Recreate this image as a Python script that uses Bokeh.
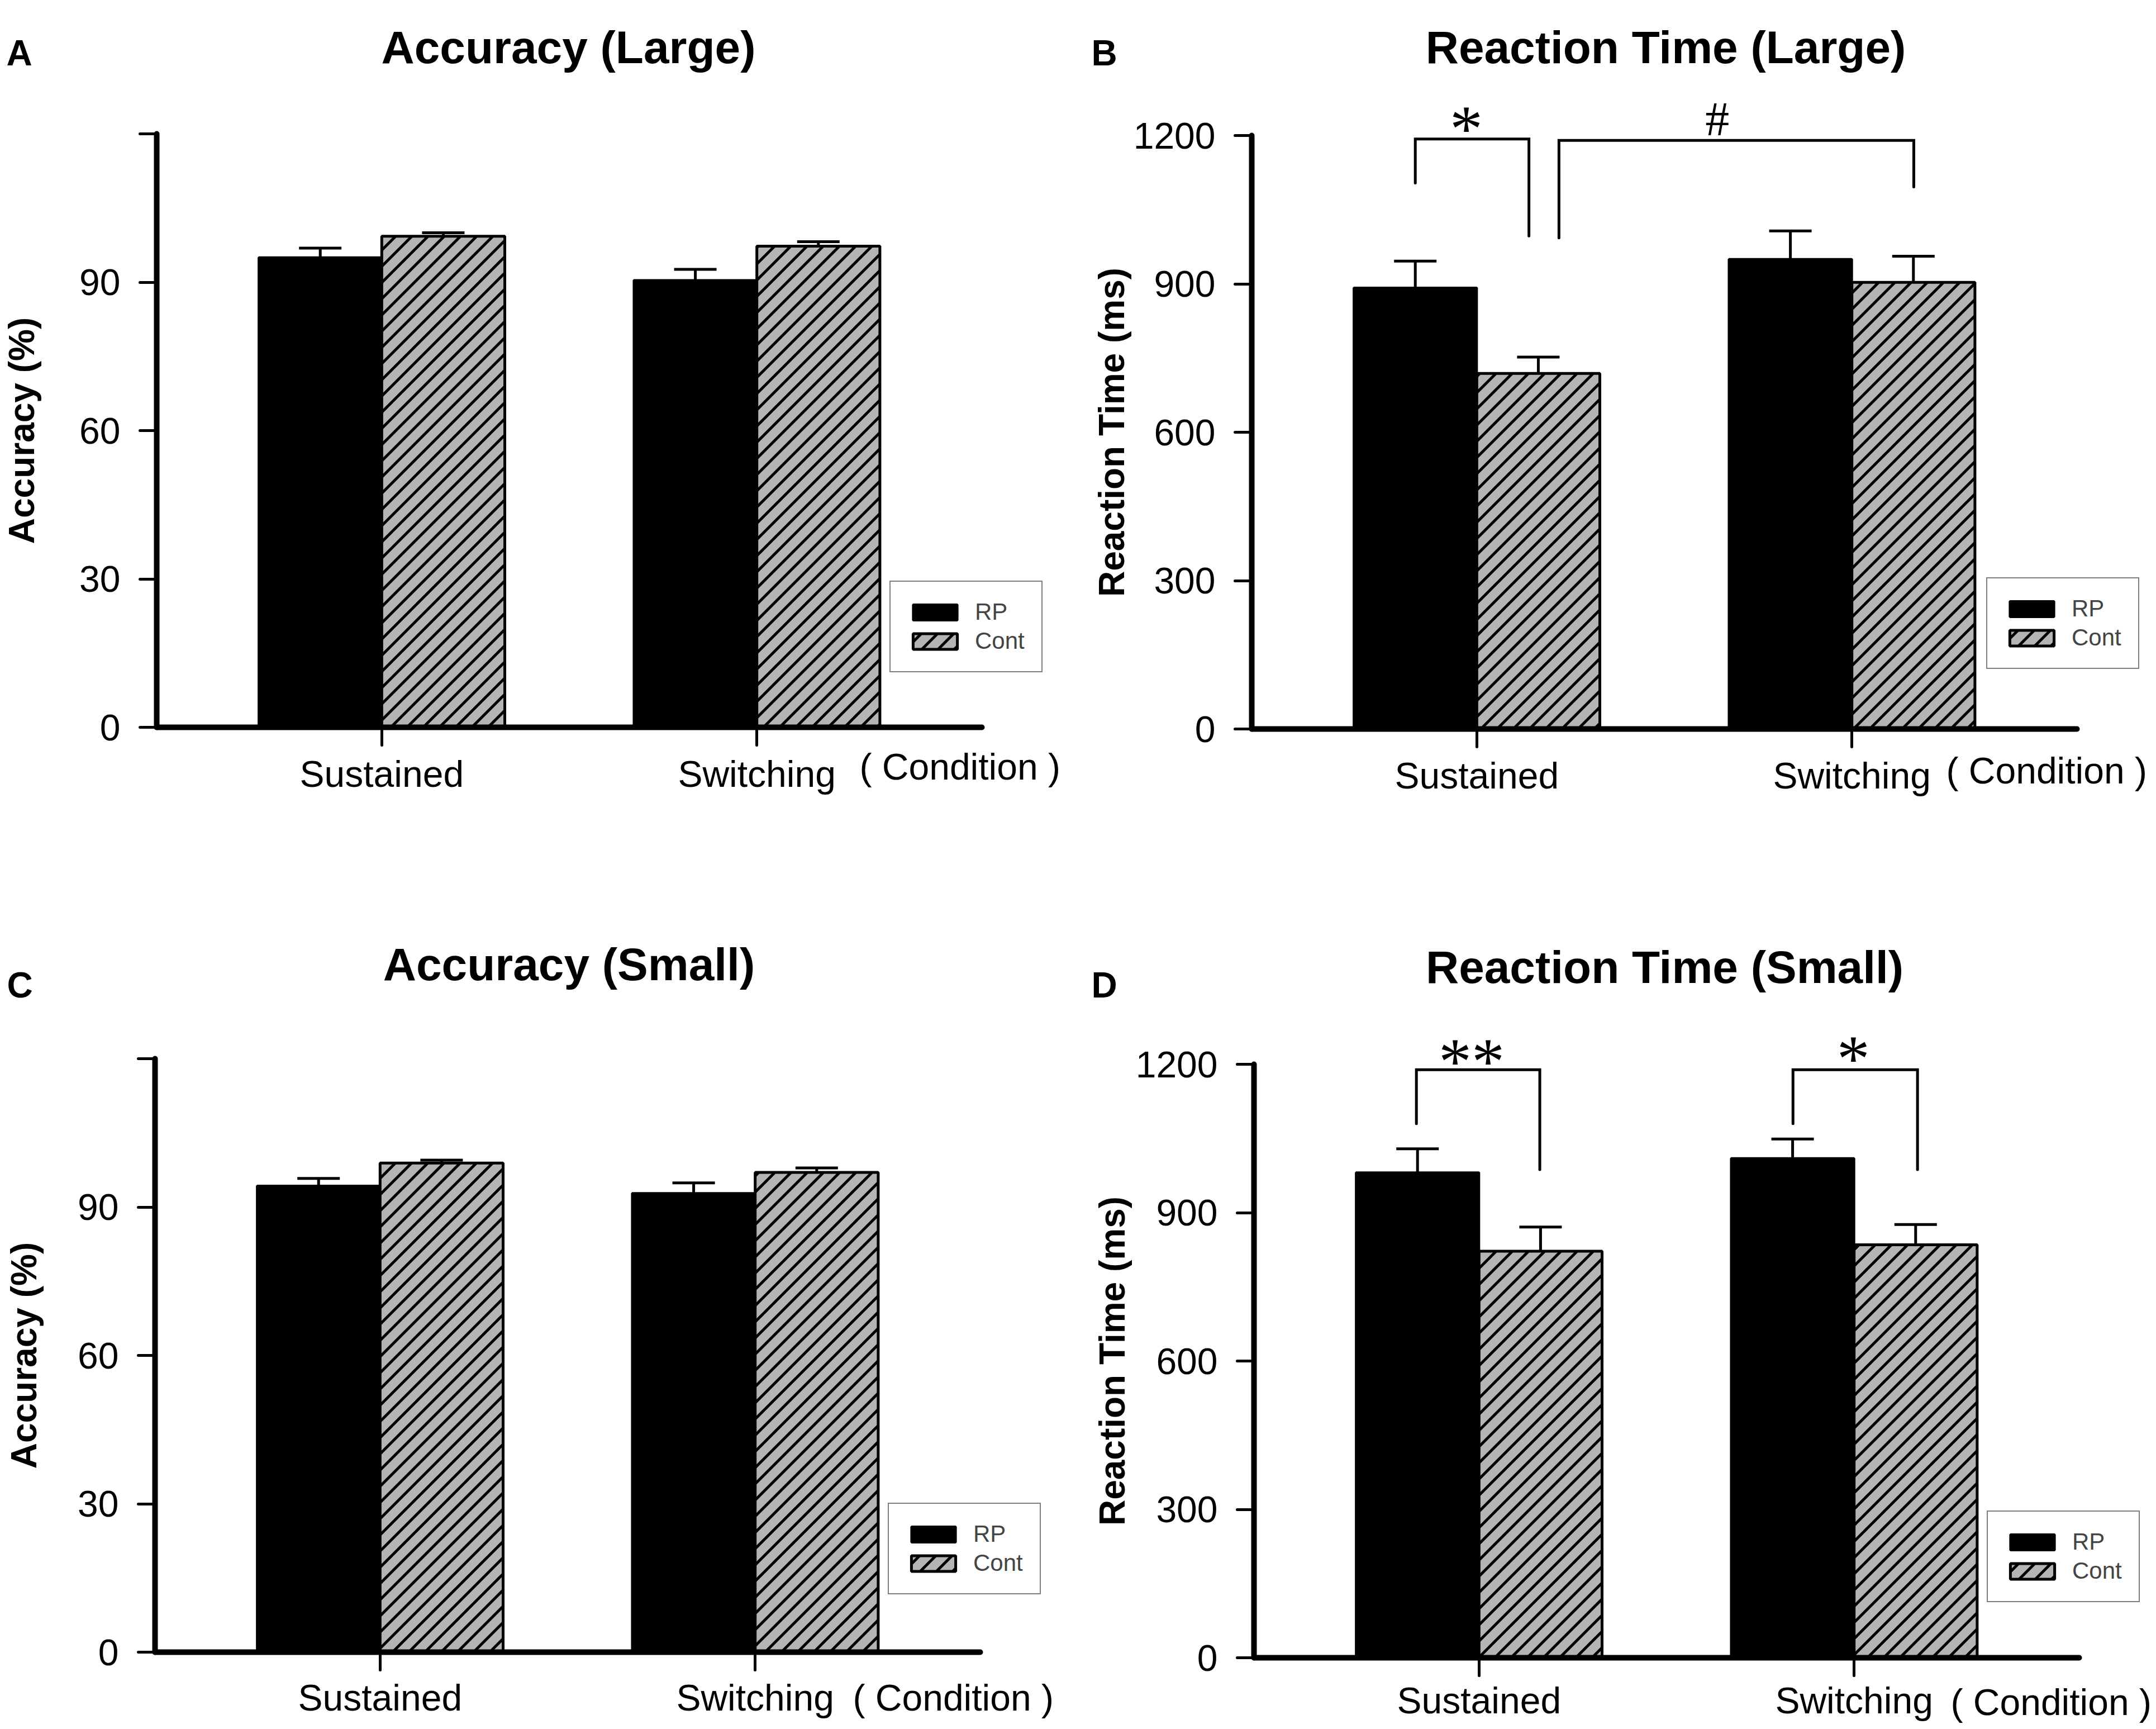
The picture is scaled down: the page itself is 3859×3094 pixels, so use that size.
import base64
from bokeh.plotting import figure
from bokeh.models import (Range1d, FixedTicker, Label, Legend, LegendItem,
                          ColumnDataSource, Whisker, TeeHead, ImageURLTexture)
from bokeh.layouts import column, row
from bokeh.embed import file_html
from bokeh.resources import INLINE
from bokeh.core.properties import value

# ---------------- data ----------------
conditions = ["Sustained", "Switching"]
groups = ["RP", "Cont"]

acc_large_rp = [95.0, 90.4]
acc_large_rp_err = [1.9, 2.2]
acc_large_cont = [99.3, 97.3]
acc_large_cont_err = [0.7, 0.9]

rt_large_rp = [892, 950]
rt_large_rp_err = [54, 57]
rt_large_cont = [719, 903]
rt_large_cont_err = [33, 53]

acc_small_rp = [94.3, 92.8]
acc_small_rp_err = [1.5, 2.1]
acc_small_cont = [98.9, 97.0]
acc_small_cont_err = [0.6, 0.9]

rt_small_rp = [981, 1010]
rt_small_rp_err = [48, 39]
rt_small_cont = [822, 835]
rt_small_cont_err = [49, 41]

acc_ticks = [0, 30, 60, 90, 120]
rt_ticks = [0, 300, 600, 900, 1200]

# significance brackets: (x_left, x_right, y_top, y_left_end, y_right_end, mark, mark_x, mark_y)
brackets_rt_large = [
    (0.836, 1.139, 1193, 1104, 997, "*", 0.972, 1214),
    (1.219, 2.165, 1190, 993, 1096, "#", 1.641, 1233),
]
brackets_rt_small = [
    (0.833, 1.162, 1189, 1080, 987, "**", 0.980, 1206),
    (1.837, 2.169, 1189, 1080, 987, "*", 1.998, 1211),
]

# ---------------- styling / layout ----------------
W, H = 1925, 1542          # size of each panel figure (px)
AXW, AXH = 1477, 1062      # size of the axes box inside each panel (px)
X0, X1 = 0.40, 2.60        # x extent of the axes box (data)
BAR_W = 0.328
SANS = "Liberation Sans"
SERIF = "Liberation Serif"
GRAY = "#b4b4b4"

# 45-degree hatch tile
_T = 29
_tile = (f'<svg xmlns="http://www.w3.org/2000/svg" width="{_T}" height="{_T}">'
         f'<path d="M-3,{_T + 3} L{_T + 3},-3 M-6,6 L6,-6 M{_T - 6},{_T + 6} L{_T + 6},{_T - 6}" '
         f'stroke="black" stroke-width="5" fill="none"/></svg>')
HATCH_URL = "data:image/svg+xml;base64," + base64.b64encode(_tile.encode()).decode()


def add_text(p, fx, fy, text, size, bold=False, align="center", font=SANS):
    p.add_layout(Label(x=fx, y=H - fy, x_units="screen", y_units="screen",
                       text=text, text_font=font, text_font_size=f"{size}px",
                       text_font_style="bold" if bold else "normal",
                       text_align=align, text_baseline="middle", text_color="black"))


def make_panel(title, letter, ylabel, ymax, ticks, rp, rp_err, cont, cont_err,
               box, title_pos, letter_pos, cond_pos, legend_loc, ylabel_standoff,
               xlabel_standoff, hide_top_label, brackets):
    left, top = box
    xppu = AXW / (X1 - X0)
    yppu = AXH / ymax
    xs = X0 - left / xppu
    xe = xs + W / xppu
    ye = ymax + top / yppu
    ys = ye - H / yppu
    p = figure(width=W, height=H, min_border=0,
               x_range=Range1d(xs, xe), y_range=Range1d(ys, ye),
               output_backend="svg", toolbar_location=None, tools="")
    p.outline_line_color = None
    p.xgrid.visible = False
    p.ygrid.visible = False
    p.background_fill_color = "white"
    p.border_fill_color = "white"

    idx = list(range(1, len(conditions) + 1))
    src_rp = ColumnDataSource(dict(x=[i - BAR_W / 2 for i in idx], top=rp,
                                   hi=[v + e for v, e in zip(rp, rp_err)]))
    src_cont = ColumnDataSource(dict(x=[i + BAR_W / 2 for i in idx], top=cont,
                                     hi=[v + e for v, e in zip(cont, cont_err)]))

    for src in (src_rp, src_cont):
        p.add_layout(Whisker(source=src, base="x", upper="hi", lower="top",
                             line_width=5, line_color="black",
                             upper_head=TeeHead(size=76, line_width=5, line_color="black"),
                             lower_head=None))

    r_rp = p.vbar(x="x", top="top", bottom=0, width=BAR_W, source=src_rp,
                  fill_color="black", line_color="black", line_width=4)
    r_cont = p.vbar(x="x", top="top", bottom=0, width=BAR_W, source=src_cont,
                    fill_color=GRAY, line_color="black", line_width=5,
                    hatch_pattern=value("diag45"),
                    hatch_extra={"diag45": ImageURLTexture(url=HATCH_URL, repetition="repeat")})

    # axes (placed at fixed data locations so the whole panel is drawable)
    xa = p.xaxis[0]
    ya = p.yaxis[0]
    xa.fixed_location = 0
    ya.fixed_location = X0
    xa.bounds = (X0, X1)
    ya.bounds = (0, ymax)
    xa.ticker = FixedTicker(ticks=idx)
    xa.major_label_overrides = {i: c for i, c in zip(idx, conditions)}
    ya.ticker = FixedTicker(ticks=ticks)
    if hide_top_label:
        ya.major_label_overrides = {ticks[-1]: ""}
    for ax in (xa, ya):
        ax.axis_line_width = 10
        ax.axis_line_color = "black"
        ax.axis_line_cap = "round"
        ax.major_tick_line_width = 5
        ax.major_tick_line_color = "black"
        ax.major_tick_line_cap = "round"
        ax.major_tick_in = 0
        ax.minor_tick_line_color = None
        ax.major_label_text_font = SANS
        ax.major_label_text_color = "black"
    xa.major_tick_out = 32
    xa.major_label_standoff = xlabel_standoff
    xa.major_label_text_font_size = "66px"
    ya.major_tick_out = 30
    ya.major_label_standoff = 35
    ya.major_label_text_font_size = "66px"
    ya.axis_label = ylabel
    ya.axis_label_text_font = SANS
    ya.axis_label_text_font_style = "bold"
    ya.axis_label_text_font_size = "64px"
    ya.axis_label_text_color = "black"
    ya.axis_label_standoff = ylabel_standoff

    # legend
    legend = Legend(items=[LegendItem(label=groups[0], renderers=[r_rp]),
                           LegendItem(label=groups[1], renderers=[r_cont])],
                    location=legend_loc, margin=0, padding=30, spacing=4,
                    glyph_width=99, glyph_height=35, label_standoff=22,
                    label_text_font=SANS, label_text_font_size="42px",
                    border_line_color="black", border_line_width=2,
                    background_fill_color="white", background_fill_alpha=1.0)
    p.add_layout(legend)

    # brackets and significance marks
    for (bx0, bx1, yt, y0, y1, mark, mx, my) in brackets:
        p.line(x=[bx0, bx0, bx1, bx1], y=[y0, yt, yt, y1], line_color="black",
               line_width=5, line_cap="round", line_join="miter")
        size = 86 if mark == "#" else 118
        p.add_layout(Label(x=mx, y=my, text=mark, text_font=SERIF,
                           text_font_size=f"{size}px", text_align="center",
                           text_baseline="middle", text_color="black"))

    add_text(p, title_pos[0], title_pos[1], title, 82, bold=True)
    add_text(p, letter_pos[0], letter_pos[1], letter, 64, bold=True)
    add_text(p, cond_pos[0], cond_pos[1], "( Condition )", 66, align="left")
    return p


pA = make_panel("Accuracy (Large)", "A", "Accuracy (%)", 120, acc_ticks,
                acc_large_rp, acc_large_rp_err, acc_large_cont, acc_large_cont_err,
                box=(280, 239), title_pos=(1017, 84), letter_pos=(34, 94),
                cond_pos=(1538, 1371), legend_loc=(1592, 339), ylabel_standoff=64,
                xlabel_standoff=14, hide_top_label=True, brackets=[])
pB = make_panel("Reaction Time (Large)", "B", "Reaction Time (ms)", 1200, rt_ticks,
                rt_large_rp, rt_large_rp_err, rt_large_cont, rt_large_cont_err,
                box=(315, 242), title_pos=(1056, 84), letter_pos=(51, 94),
                cond_pos=(1558, 1378), legend_loc=(1630, 345), ylabel_standoff=0,
                xlabel_standoff=14, hide_top_label=False, brackets=brackets_rt_large)
pC = make_panel("Accuracy (Small)", "C", "Accuracy (%)", 120, acc_ticks,
                acc_small_rp, acc_small_rp_err, acc_small_cont, acc_small_cont_err,
                box=(277, 352), title_pos=(1018, 183), letter_pos=(35, 220),
                cond_pos=(1526, 1495), legend_loc=(1589, 231), ylabel_standoff=57,
                xlabel_standoff=12, hide_top_label=True, brackets=[])
pD = make_panel("Reaction Time (Small)", "D", "Reaction Time (ms)", 1200, rt_ticks,
                rt_small_rp, rt_small_rp_err, rt_small_cont, rt_small_cont_err,
                box=(319, 362), title_pos=(1054, 188), letter_pos=(51, 220),
                cond_pos=(1566, 1503), legend_loc=(1631, 217), ylabel_standoff=3,
                xlabel_standoff=7, hide_top_label=False, brackets=brackets_rt_small)

layout = column(row(pA, pB), row(pC, pD))
open("out.html", "w").write(file_html(layout, INLINE))
